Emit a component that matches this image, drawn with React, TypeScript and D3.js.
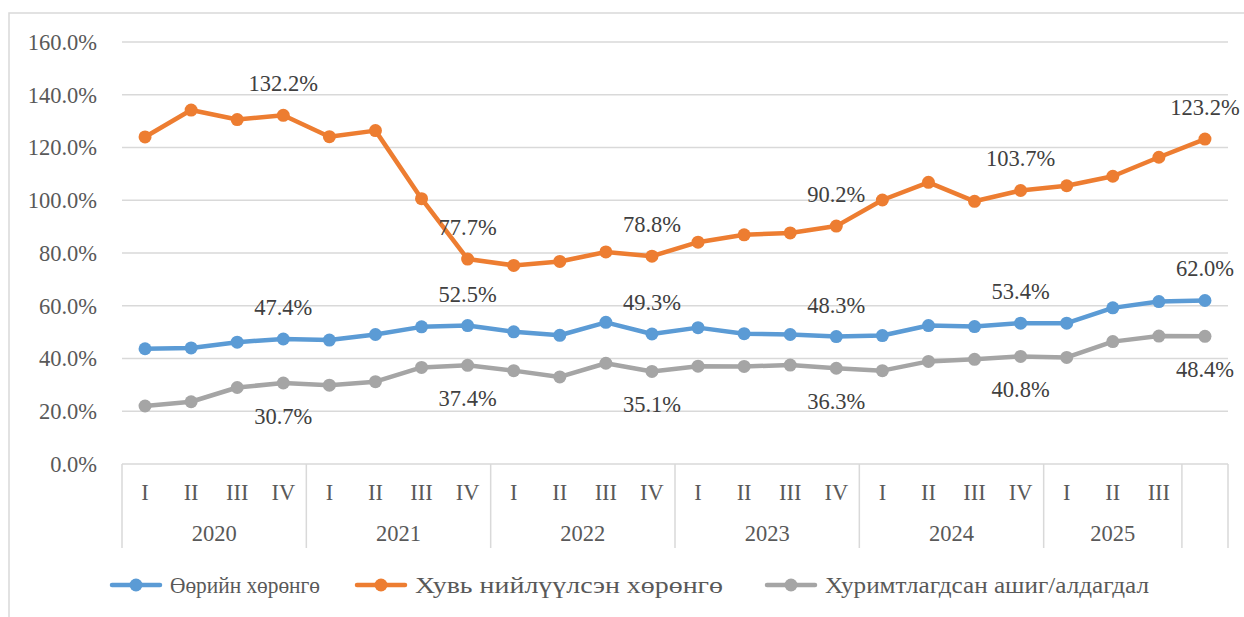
import React, { useRef, useEffect } from "react";
import * as d3 from "d3";

// quarterly ratios, 2020 Q1 .. 2025 Q3 + last point
const quarters = [
  "I", "II", "III", "IV",
  "I", "II", "III", "IV",
  "I", "II", "III", "IV",
  "I", "II", "III", "IV",
  "I", "II", "III", "IV",
  "I", "II", "III", "",
];
const years = ["2020", "2021", "2022", "2023", "2024", "2025", ""];
const yearSpans = [4, 4, 4, 4, 4, 3, 1];

const ownAssets = [
  43.7, 44.0, 46.2, 47.4, 47.0, 49.1, 52.0, 52.5, 50.1, 48.8, 53.7, 49.3,
  51.7, 49.4, 49.1, 48.3, 48.7, 52.5, 52.1, 53.4, 53.4, 59.2, 61.6, 62.0,
];
const paidInCapital = [
  124.0, 134.2, 130.6, 132.2, 124.1, 126.4, 100.6, 77.7, 75.3, 76.8, 80.4, 78.8,
  84.1, 86.9, 87.6, 90.2, 100.1, 106.8, 99.6, 103.7, 105.5, 109.1, 116.3, 123.2,
];
const retainedEarnings = [
  22.0, 23.6, 29.0, 30.7, 29.9, 31.2, 36.6, 37.4, 35.4, 33.0, 38.2, 35.1,
  37.1, 37.0, 37.5, 36.3, 35.4, 38.9, 39.7, 40.8, 40.4, 46.4, 48.5, 48.4,
];
const yTicks = [0, 20, 40, 60, 80, 100, 120, 140, 160];
const labelIdx = [3, 7, 11, 15, 19, 23];

const series = [
  { name: "Өөрийн хөрөнгө", values: ownAssets, color: "#5b9bd5", pos: "above", textW: 150 },
  { name: "Хувь нийлүүлсэн хөрөнгө", values: paidInCapital, color: "#ed7d31", pos: "above", textW: 308 },
  { name: "Хуримтлагдсан ашиг/алдагдал", values: retainedEarnings, color: "#a5a5a5", pos: "below", textW: 324 },
];

const W = 1244;
const H = 617;
const FONT = "'Liberation Serif', 'Times New Roman', serif";
const FS = 22.5;

function App() {
  const svgRef = useRef<SVGSVGElement>(null);

  useEffect(() => {
    const svg = d3.select(svgRef.current);
    svg.selectAll("*").remove();

    const left = 122, right = 1228, top = 42, bottom = 464;

    const x = d3.scaleBand<number>()
      .domain(d3.range(quarters.length))
      .range([left, right]);
    const y = d3.scaleLinear().domain([0, 160]).range([bottom, top]);

    // outer frame
    svg.append("rect")
      .attr("x", 9).attr("y", 13)
      .attr("width", W).attr("height", H)
      .attr("fill", "white")
      .attr("stroke", "#d9d9d9").attr("stroke-width", 1.5);

    // grid + y labels
    svg.append("g").selectAll("line").data(yTicks.slice(1)).join("line")
      .attr("x1", left).attr("x2", right)
      .attr("y1", (d) => y(d)).attr("y2", (d) => y(d))
      .attr("stroke", "#d9d9d9").attr("stroke-width", 1.5);

    svg.append("g").selectAll("text").data(yTicks).join("text")
      .attr("x", 97).attr("y", (d) => y(d))
      .attr("dy", "0.35em")
      .attr("text-anchor", "end")
      .attr("font-family", FONT).attr("font-size", FS)
      .attr("fill", "#595959")
      .text((d) => d.toFixed(1) + "%");

    // category axis
    const ax = svg.append("g");
    ax.append("line")
      .attr("x1", left).attr("x2", right)
      .attr("y1", bottom).attr("y2", bottom)
      .attr("stroke", "#d9d9d9").attr("stroke-width", 1.5);

    const bounds = [0];
    yearSpans.forEach((n, i) => bounds.push(bounds[i] + n));
    const xEdge = (i: number) => left + i * x.step();

    ax.selectAll("line.div").data(bounds).join("line")
      .attr("class", "div")
      .attr("x1", (d) => xEdge(d)).attr("x2", (d) => xEdge(d))
      .attr("y1", bottom).attr("y2", 548)
      .attr("stroke", "#d9d9d9").attr("stroke-width", 1.5);

    ax.selectAll("text.q").data(quarters).join("text")
      .attr("class", "q")
      .attr("x", (_, i) => x(i)! + x.bandwidth() / 2)
      .attr("y", 500)
      .attr("text-anchor", "middle")
      .attr("font-family", FONT).attr("font-size", FS)
      .attr("fill", "#595959")
      .text((d) => d);

    ax.selectAll("text.y").data(years).join("text")
      .attr("class", "y")
      .attr("x", (_, i) => (xEdge(bounds[i]) + xEdge(bounds[i + 1])) / 2)
      .attr("y", 541)
      .attr("text-anchor", "middle")
      .attr("font-family", FONT).attr("font-size", FS)
      .attr("fill", "#595959")
      .text((d) => d);

    const cx = (i: number) => x(i)! + x.bandwidth() / 2;
    const line = d3.line<number>()
      .x((_, i) => cx(i))
      .y((d) => y(d));

    // orange first so blue/gray sit on top
    const order = [1, 0, 2];
    order.forEach((k) => {
      const s = series[k];
      const g = svg.append("g");
      g.append("path")
        .datum(s.values)
        .attr("fill", "none")
        .attr("stroke", s.color)
        .attr("stroke-width", 4.5)
        .attr("stroke-linejoin", "round")
        .attr("d", line);
      g.selectAll("circle").data(s.values).join("circle")
        .attr("cx", (_, i) => cx(i))
        .attr("cy", (d) => y(d))
        .attr("r", 6.5)
        .attr("fill", s.color);
    });

    // data labels
    series.forEach((s) => {
      svg.append("g").selectAll("text").data(labelIdx).join("text")
        .attr("x", (i) => cx(i))
        .attr("y", (i) => y(s.values[i]) + (s.pos === "above" ? -24 : 41))
        .attr("text-anchor", "middle")
        .attr("font-family", FONT).attr("font-size", FS)
        .attr("fill", "#404040")
        .text((i) => s.values[i].toFixed(1) + "%");
    });

    // legend
    const legendX = [112, 357, 767];
    series.forEach((s, i) => {
      const g = svg.append("g").attr("transform", `translate(${legendX[i]},585)`);
      g.append("line")
        .attr("x1", 0).attr("x2", 48)
        .attr("stroke", s.color).attr("stroke-width", 4.5)
        .attr("stroke-linecap", "round");
      g.append("circle").attr("cx", 24).attr("r", 6.5).attr("fill", s.color);
      g.append("text")
        .attr("x", 58).attr("dy", "0.35em")
        .attr("font-family", FONT).attr("font-size", FS)
        .attr("fill", "#595959")
        .attr("textLength", s.textW)
        .attr("lengthAdjust", "spacingAndGlyphs")
        .text(s.name);
    });
  }, []);

  return (
    <svg
      ref={svgRef}
      width={W}
      height={H}
      style={{ position: "absolute", left: 0, top: 0, background: "white" }}
    />
  );
}

export default App;
